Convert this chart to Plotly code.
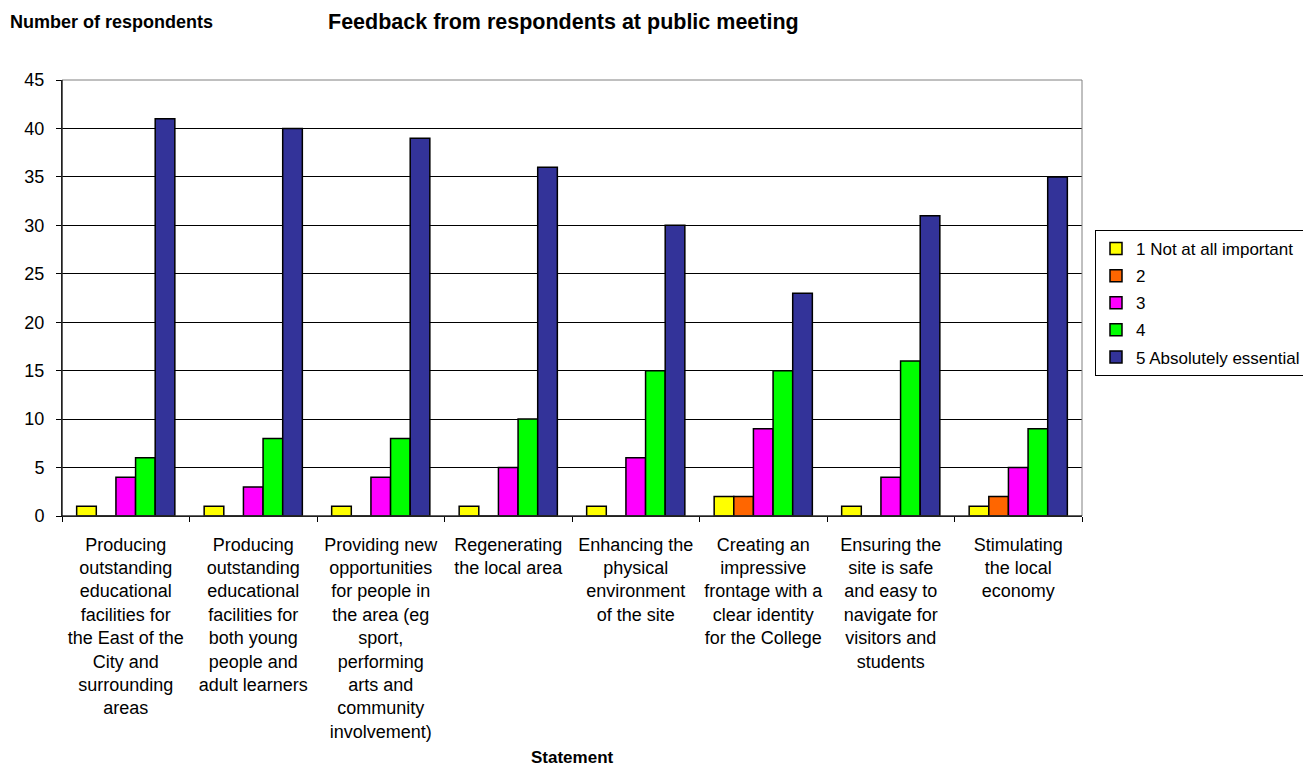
import plotly.graph_objects as go

categories = [
    "Producing<br>outstanding<br>educational<br>facilities for<br>the East of the<br>City and<br>surrounding<br>areas",
    "Producing<br>outstanding<br>educational<br>facilities for<br>both young<br>people and<br>adult learners",
    "Providing new<br>opportunities<br>for people in<br>the area (eg<br>sport,<br>performing<br>arts and<br>community<br>involvement)",
    "Regenerating<br>the local area",
    "Enhancing the<br>physical<br>environment<br>of the site",
    "Creating an<br>impressive<br>frontage with a<br>clear identity<br>for the College",
    "Ensuring the<br>site is safe<br>and easy to<br>navigate for<br>visitors and<br>students",
    "Stimulating<br>the local<br>economy",
]

series_names = ["1 Not at all important", "2", "3", "4", "5 Absolutely essential"]
not_important = [1, 1, 1, 1, 1, 2, 1, 1]
rating_2 = [0, 0, 0, 0, 0, 2, 0, 2]
rating_3 = [4, 3, 4, 5, 6, 9, 4, 5]
rating_4 = [6, 8, 8, 10, 15, 15, 16, 9]
essential = [41, 40, 39, 36, 30, 23, 31, 35]

series_values = [not_important, rating_2, rating_3, rating_4, essential]
colors = ["#FFFF00", "#FF6600", "#FF00FF", "#00FF00", "#333399"]

font_family = "Liberation Sans, Arial, sans-serif"

# page geometry (the page body adds an 8px offset)
OFF = 8
PL, PR, PT, PB = 62, 1082, 80, 516
W, H = 1311, 767
pw, ph = PR - PL, PB - PT


def px(X):
    return (X - PL) / pw


def py(Y):
    return (PB - Y) / ph


fig = go.Figure()
for i, (name, vals, col) in enumerate(zip(series_names, series_values, colors)):
    fig.add_trace(go.Bar(
        x=categories, y=vals, name=name, legendgroup=f"g{i}",
        marker=dict(color=col, line=dict(color="black", width=1.5)),
    ))

fig.update_layout(
    width=W, height=H,
    barmode="group", bargap=0.23, bargroupgap=0,
    paper_bgcolor="white", plot_bgcolor="white",
    margin=dict(l=PL - OFF, r=(W + OFF) - PR, t=PT - OFF, b=(H + OFF) - PB, autoexpand=False),
    font=dict(family=font_family, size=18, color="black"),
    showlegend=True,
    legend=dict(
        x=px(1095), y=py(230), xanchor="left", yanchor="top",
        bordercolor="black", borderwidth=1, bgcolor="white",
        font=dict(size=17, family=font_family, color="black"),
        traceorder="grouped", tracegroupgap=2,
    ),
    annotations=[
        dict(text="<b>Number of respondents</b>", x=px(8), y=py(22), xref="paper", yref="paper",
             showarrow=False, xanchor="left", yanchor="middle", font=dict(size=18)),
        dict(text="<b>Feedback from respondents at public meeting</b>", x=px(326), y=py(22),
             xref="paper", yref="paper", showarrow=False, xanchor="left", yanchor="middle",
             font=dict(size=21.5)),
        dict(text="<b>Statement</b>", x=px(572), y=py(757), xref="paper", yref="paper",
             showarrow=False, xanchor="center", yanchor="middle", font=dict(size=17)),
    ],
)

fig.update_yaxes(
    range=[0, 45], dtick=5, tick0=0,
    showgrid=True, gridcolor="black", gridwidth=1,
    showline=True, linecolor="black", linewidth=1,
    ticks="outside", ticklen=5, tickcolor="black", ticklabelstandoff=8,
    tickfont=dict(size=18), zeroline=False,
)
fig.update_xaxes(
    tickson="boundaries", ticks="outside", ticklen=5, tickcolor="black",
    showline=True, linecolor="black", linewidth=1, ticklabelstandoff=12,
    tickfont=dict(size=18), showgrid=False, tickangle=0,
)

fig.add_shape(type="rect", xref="paper", yref="paper", x0=0, x1=1, y0=0, y1=1,
              line=dict(color="#808080", width=1), layer="above")
fig.add_shape(type="line", xref="paper", yref="paper", x0=0, x1=0, y0=0, y1=1,
              line=dict(color="black", width=1), layer="above")
fig.add_shape(type="line", xref="paper", yref="paper", x0=0, x1=1, y0=0, y1=0,
              line=dict(color="black", width=1), layer="above")

fig.write_html("out.html")
